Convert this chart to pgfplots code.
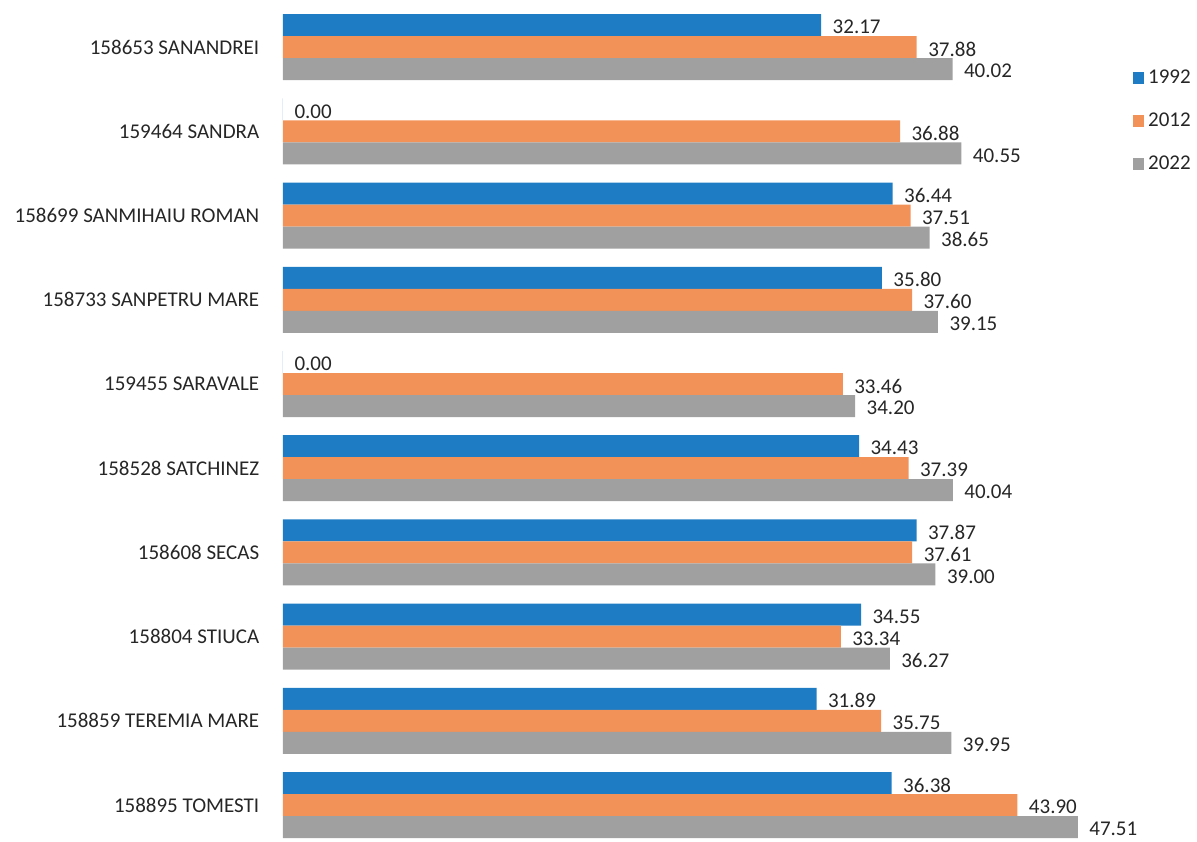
\documentclass[border=0pt]{standalone}
\usepackage{pgfplots}
\pgfplotsset{compat=1.18}
\usepackage{fontspec}
\setmainfont{Carlito}
\definecolor{c1992}{RGB}{30,124,196}
\definecolor{c2012}{RGB}{242,146,88}
\definecolor{c2022}{RGB}{160,160,160}
\newcommand{\lbl}{\fontsize{21}{25}\selectfont}
\begin{document}
\begin{tikzpicture}
\path[use as bounding box] (0,0) rectangle (1197pt,842pt);
\begin{axis}[
  at={(283pt,-0.9pt)}, anchor=south west,
  scale only axis, width=836.5pt, height=842pt,
  xmin=0, xmax=50, ymin=-0.55, ymax=9.45,
  y dir=reverse, xbar, bar width=22pt,
  clip=false,
  axis line style={draw=none}, tick style={draw=none},
  xtick=\empty,
  ytick={0,...,9},
  yticklabels={158653 SANANDREI, 159464 SANDRA, 158699 SANMIHAIU ROMAN,
    158733 SANPETRU MARE, 159455 SARAVALE, 158528 SATCHINEZ, 158608 SECAS,
    158804 STIUCA, 158859 TEREMIA MARE, 158895 TOMESTI},
  yticklabel style={font=\lbl, text=black!85, xshift=-16pt},
  /pgf/number format/assume math mode=true,
  point meta=x,
  nodes near coords={\pgfmathprintnumber[fixed,zerofill,precision=2]{\pgfplotspointmeta}},
  nodes near coords style={font=\lbl, text=black!85, anchor=west, xshift=8pt, yshift=-2pt},
  legend image code/.code={\fill[#1] (0pt,-6pt) rectangle (11pt,6pt);},
  legend style={at={(1,1)}, anchor=north west, xshift=13.5pt, yshift=-67pt,
    draw=none, fill=none, font=\lbl, text=black!85, row sep=24pt, inner sep=0pt,
    /tikz/every odd column/.append style={column sep=2pt}},
  legend cell align=left,
]
\addplot[draw=none, fill=c1992, bar shift=22pt] coordinates {
  (32.17,0) (0,1) (36.44,2) (35.80,3) (0,4) (34.43,5) (37.87,6) (34.55,7) (31.89,8) (36.38,9)};
\addlegendentry{1992}
\addplot[draw=none, fill=c2012, bar shift=0pt] coordinates {
  (37.88,0) (36.88,1) (37.51,2) (37.60,3) (33.46,4) (37.39,5) (37.61,6) (33.34,7) (35.75,8) (43.90,9)};
\addlegendentry{2012}
\addplot[draw=none, fill=c2022, bar shift=-22pt] coordinates {
  (40.02,0) (40.55,1) (38.65,2) (39.15,3) (34.20,4) (40.04,5) (39.00,6) (36.27,7) (39.95,8) (47.51,9)};
\addlegendentry{2022}
\end{axis}
\end{tikzpicture}
\end{document}
